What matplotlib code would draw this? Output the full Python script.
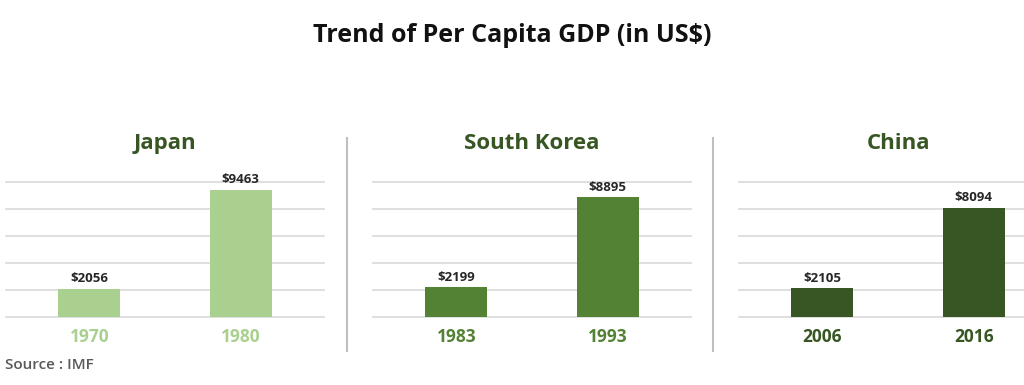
import matplotlib
matplotlib.use("Agg")
import matplotlib.pyplot as plt
from matplotlib.lines import Line2D

countries = ["Japan", "South Korea", "China"]
years = [["1970", "1980"], ["1983", "1993"], ["2006", "2016"]]
gdp = [[2056, 9463], [2199, 8895], [2105, 8094]]
colors = ["#a9d08e", "#548235", "#375623"]
title = "Trend of Per Capita GDP (in US$)"
source = "Source : IMF"
grid_ticks = [0, 2000, 4000, 6000, 8000, 10000]

plt.rcParams['font.family'] = ['Open Sans', 'DejaVu Sans']

W, H = 1024, 385
fig = plt.figure(figsize=(W / 100, H / 100), dpi=100)
fig.patch.set_facecolor("white")

axes_left_px = [6, 373, 739]
axes_w_px = 318
bottom_px, top_px = 316.5, 182.3

for i, (c, yl, vals, col) in enumerate(zip(countries, years, gdp, colors)):
    ax = fig.add_axes([axes_left_px[i] / W, (H - bottom_px) / H,
                       axes_w_px / W, (bottom_px - top_px) / H])
    x = [0, 1]
    ax.bar(x, vals, width=0.41, color=col, zorder=3)
    ax.set_xlim(-0.55, 1.55)
    ax.set_ylim(0, 10000)
    for gy in grid_ticks:
        ax.axhline(gy, color="#d9d9d9", linewidth=1.2, zorder=1, clip_on=False)
    ax.set_yticks([])
    ax.tick_params(axis="x", bottom=False, pad=5)
    ax.set_xticks(x)
    ax.set_xticklabels(yl, fontsize=12.5, fontweight="bold", color=col)
    for s in ax.spines.values():
        s.set_visible(False)
    for xi, v in zip(x, vals):
        ax.annotate(f"${v}", (xi, v), xytext=(0, 2.5), textcoords="offset points",
                    ha="center", va="bottom", fontsize=9.5, fontweight="bold",
                    color="#262626")
    ax.set_title(c, fontsize=16, fontweight="bold", color="#375623", pad=24)

# dividers
for xd in [347, 713]:
    fig.add_artist(Line2D([xd / W, xd / W], [(H - 138) / H, (H - 351) / H],
                          color="#bfbfbf", linewidth=1.5, transform=fig.transFigure))

fig.text(0.5, (H - 35) / H, title, ha="center", va="center", fontsize=18,
         fontweight="bold", color="#111111")
fig.text(5 / W, (H - 365) / H, source, ha="left", va="center", fontsize=11,
         fontweight="semibold", color="#595959")

fig.savefig("out.png", dpi=100, facecolor="white")
